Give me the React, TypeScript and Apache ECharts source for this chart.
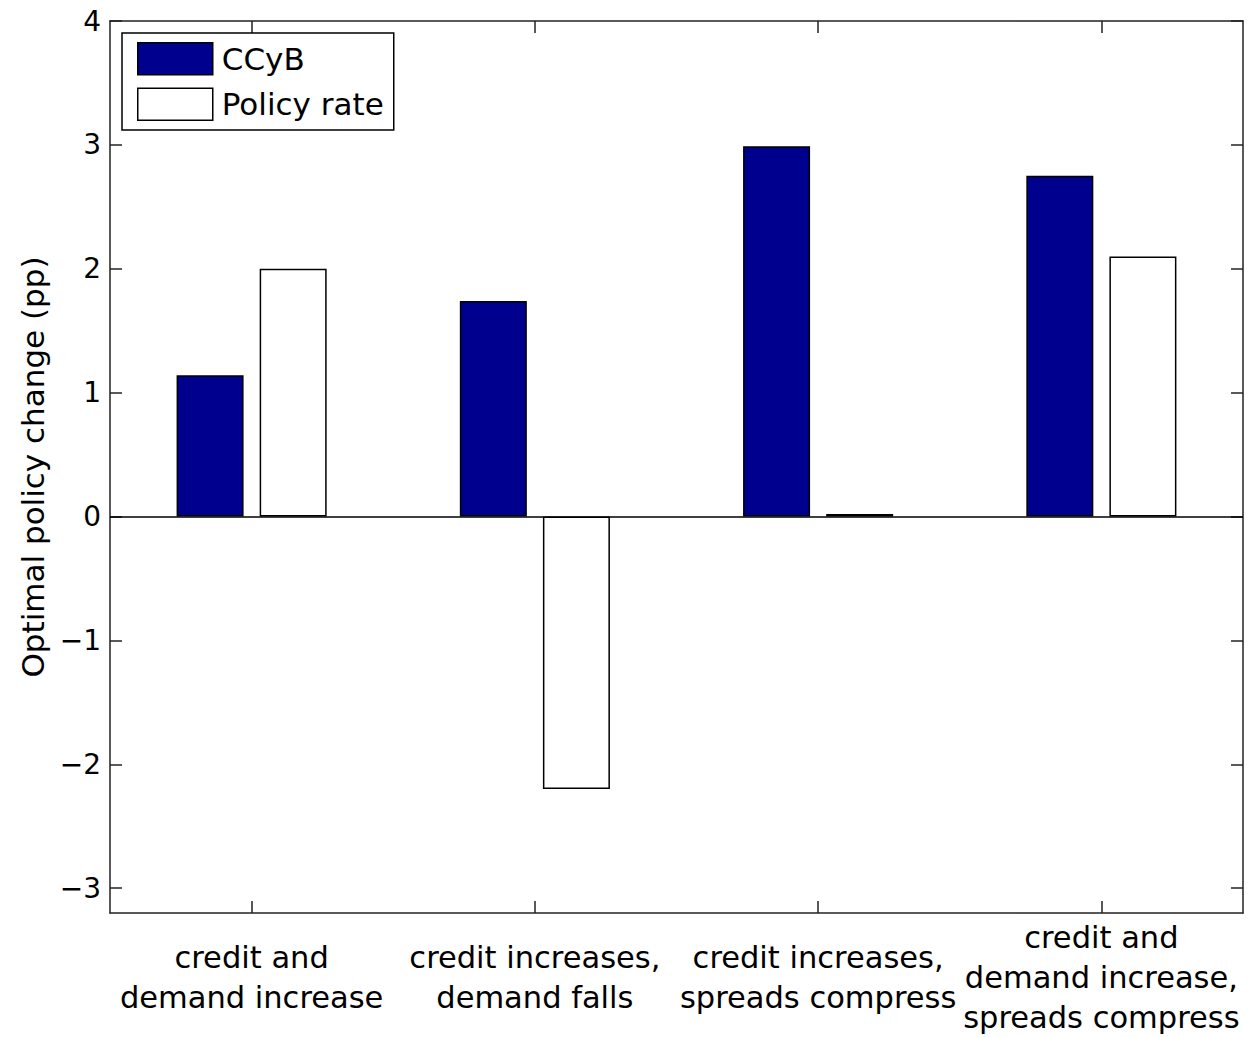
import React, { useEffect, useRef } from "react";
import * as echarts from "echarts";

const categories = [
  "credit and\ndemand increase",
  "credit increases,\ndemand falls",
  "credit increases,\nspreads compress",
  "credit and\ndemand increase,\nspreads compress",
];
const ccybValues = [1.14, 1.74, 2.99, 2.75];
const policyRateValues = [2.0, -2.2, 0.02, 2.1];
const yTickValues = [-3, -2, -1, 0, 1, 2, 3, 4];
const yMin = -3.2;
const yMax = 4;
const yTitle = "Optimal policy change (pp)";
const seriesNames = ["CCyB", "Policy rate"];

const FONT = "DejaVu Sans";
const AXIS_COLOR = "#222";

export default function App() {
  const ref = useRef<HTMLDivElement>(null);
  useEffect(() => {
    document.body.style.margin = "0";
    if (!ref.current) return;
    const chart = echarts.init(ref.current, null, { renderer: "svg" });
    const tickStyle = { show: true, inside: true, length: 12, lineStyle: { color: AXIS_COLOR, width: 1.5 } };
    const lineStyle = { show: true, onZero: false, lineStyle: { color: AXIS_COLOR, width: 1.5 } };
    chart.setOption({
      animation: false,
      backgroundColor: "#fff",
      textStyle: { fontFamily: FONT, color: "#000" },
      grid: { left: 110, right: 9, top: 21, bottom: 123, containLabel: false },
      legend: {
        left: 122,
        top: 33,
        orient: "vertical",
        data: seriesNames,
        itemWidth: 75,
        itemHeight: 32,
        itemGap: 12,
        padding: [9, 10, 9, 15],
        borderColor: "#000",
        borderWidth: 1.5,
        backgroundColor: "#fff",
        icon: "rect",
        itemStyle: { borderColor: "#000", borderWidth: 1.5 },
        textStyle: { fontFamily: FONT, fontSize: 31, color: "#000", padding: [0, 0, 0, 4] },
      },
      xAxis: [
        {
          type: "category",
          data: categories,
          position: "bottom",
          axisLine: lineStyle,
          axisTick: { ...tickStyle, alignWithLabel: true },
          axisLabel: {
            fontFamily: FONT,
            fontSize: 30.5,
            lineHeight: 40,
            color: "#000",
            margin: 64,
            verticalAlign: "middle",
            interval: 0,
          },
          splitLine: { show: false },
        },
        {
          type: "category",
          data: categories,
          position: "top",
          axisLine: lineStyle,
          axisTick: { ...tickStyle, alignWithLabel: true },
          axisLabel: { show: false },
          splitLine: { show: false },
        },
      ],
      yAxis: [
        {
          type: "value",
          min: yMin,
          max: yMax,
          position: "left",
          name: yTitle,
          nameLocation: "middle",
          nameGap: 62,
          nameTextStyle: { fontFamily: FONT, fontSize: 31, color: "#000" },
          axisLine: lineStyle,
          axisTick: { ...tickStyle, customValues: yTickValues },
          axisLabel: {
            customValues: yTickValues,
            fontFamily: FONT,
            fontSize: 28,
            color: "#000",
            margin: 9,
            formatter: (v: number) => String(v).replace("-", "\u2212"),
          },
          splitLine: { show: false },
        },
        {
          type: "value",
          min: yMin,
          max: yMax,
          position: "right",
          axisLine: lineStyle,
          axisTick: { ...tickStyle, customValues: yTickValues },
          axisLabel: { show: false },
          splitLine: { show: false },
        },
      ],
      series: [
        {
          name: seriesNames[0],
          type: "bar",
          data: ccybValues,
          barWidth: 67,
          barGap: "24%",
          itemStyle: { color: "#00008F", borderColor: "#000", borderWidth: 1.5 },
          markLine: {
            silent: true,
            symbol: "none",
            label: { show: false },
            lineStyle: { color: "#000", width: 1.5, type: "solid" },
            data: [{ yAxis: 0 }],
          },
        },
        {
          name: seriesNames[1],
          type: "bar",
          data: policyRateValues,
          barWidth: 67,
          barGap: "24%",
          itemStyle: { color: "#fff", borderColor: "#000", borderWidth: 1.5 },
        },
      ],
    });
    return () => chart.dispose();
  }, []);
  return <div ref={ref} style={{ width: 1252, height: 1037 }} />;
}
